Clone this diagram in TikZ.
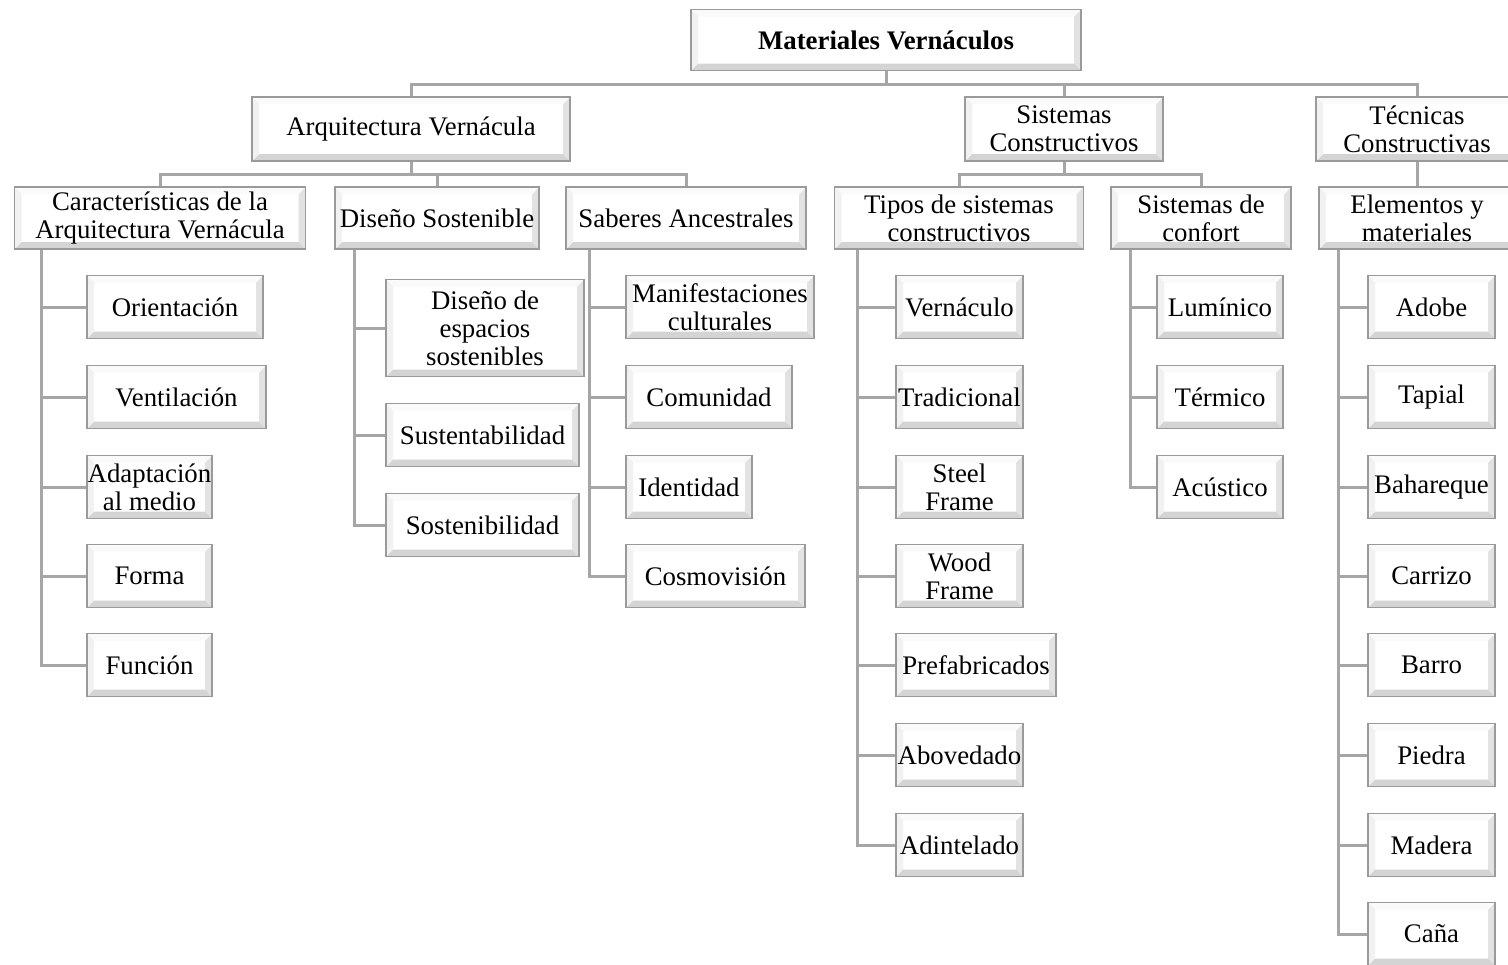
\documentclass[tikz,border=0pt]{standalone}
\usepackage{fontspec}
\setmainfont{Liberation Serif}
\usetikzlibrary{calc}
\definecolor{bord}{HTML}{9A9A9A}
\definecolor{linec}{HTML}{A6A6A6}
\definecolor{bevB}{HTML}{D4D4D4}
\definecolor{bevR}{HTML}{E2E2E2}
\definecolor{bevT}{HTML}{FAFAFA}
\definecolor{bevL}{HTML}{F1F1F1}
\tikzset{
  bx/.style={draw=bord, line width=0.9pt, fill=white, align=center, inner sep=0pt,
    font=\fontsize{13.4}{14}\selectfont,
    path picture={
      \path (path picture bounding box.south west) coordinate (@sw)
            (path picture bounding box.north east) coordinate (@ne);
      \fill[bevB] (@sw) -- (@sw -| @ne) -- ++(-3.5pt,3.5pt) -- ($(@sw)+(3.5pt,3.5pt)$) -- cycle;
      \fill[bevR] (@sw -| @ne) -- (@ne) -- ++(-3.5pt,-3.5pt) -- ($(@sw -| @ne)+(-3.5pt,3.5pt)$) -- cycle;
      \fill[bevT] (@ne) -- (@ne -| @sw) -- ++(3.5pt,-3.5pt) -- ($(@ne)+(-3.5pt,-3.5pt)$) -- cycle;
      \fill[bevL] (@ne -| @sw) -- (@sw) -- ++(3.5pt,3.5pt) -- ($(@ne -| @sw)+(3.5pt,-3.5pt)$) -- cycle;
    }},
  conn/.style={draw=linec, line width=1.5pt}
}
\newcommand\bxnode[6]{\node[bx,minimum width={#4*0.5pt},minimum height={#5*0.5pt}] (#1) at (#2,#3) {#6};}
\begin{document}
\begin{tikzpicture}[x=0.5pt,y=-0.5pt]
\useasboundingbox[fill=white] (0,0) rectangle (1508,964);
\coordinate (j0) at (886,84);
\coordinate (j1) at (411,174);
\coordinate (j2) at (1064,174);
% nodes
\bxnode{title}{886}{40}{390}{61}{\textbf{Materiales Vernáculos}}
\bxnode{arq}{411}{129}{318}{64}{Arquitectura Vernácula}
\bxnode{sis}{1064}{129}{198}{64}{Sistemas\\Constructivos}
\bxnode{tec}{1417}{129}{202}{64}{Técnicas\\Constructivas}
\bxnode{car}{160}{218}{291}{62}{Características de la\\Arquitectura Vernácula}
\bxnode{dis}{437}{218}{204}{62}{Diseño Sostenible}
\bxnode{sab}{686}{218}{240}{62}{Saberes Ancestrales}
\bxnode{tip}{959}{218}{249}{62}{Tipos de sistemas\\constructivos}
\bxnode{con}{1201}{218}{180}{62}{Sistemas de\\confort}
\bxnode{ele}{1417}{218}{196}{62}{Elementos y\\materiales}
% level 3
\bxnode{ori}{175}{307}{176}{63}{Orientación}
\bxnode{ven}{176.5}{397}{179}{63}{Ventilación}
\bxnode{ada}{149.5}{487}{125}{63}{Adaptación\\al medio}
\bxnode{for}{149.5}{576}{125}{63}{Forma}
\bxnode{fun}{149.5}{665}{125}{63}{Función}
\bxnode{dse}{485}{328}{198}{97}{Diseño de\\espacios\\sostenibles}
\bxnode{sus}{482.5}{435}{193}{63}{Sustentabilidad}
\bxnode{sos}{482.5}{525}{193}{63}{Sostenibilidad}
\bxnode{man}{720}{307}{188}{63}{Manifestaciones\\culturales}
\bxnode{com}{709}{397}{166}{63}{Comunidad}
\bxnode{ide}{689}{487}{126}{63}{Identidad}
\bxnode{cos}{715.5}{576}{179}{63}{Cosmovisión}
\bxnode{ver}{959.5}{307}{127}{63}{Vernáculo}
\bxnode{tra}{959.5}{397}{127}{63}{Tradicional}
\bxnode{ste}{959.5}{487}{127}{63}{Steel\\Frame}
\bxnode{woo}{959.5}{576}{127}{63}{Wood\\Frame}
\bxnode{pre}{976}{665}{160}{63}{Prefabricados}
\bxnode{abo}{959.5}{755}{127}{63}{Abovedado}
\bxnode{adi}{959.5}{845}{127}{63}{Adintelado}
\bxnode{lum}{1220}{307}{126}{63}{Lumínico}
\bxnode{ter}{1220}{397}{126}{63}{Térmico}
\bxnode{acu}{1220}{487}{126}{63}{Acústico}
\bxnode{ado}{1431.5}{307}{127}{63}{Adobe}
\bxnode{tap}{1431.5}{397}{127}{63}{Tapial}
\bxnode{bah}{1431.5}{487}{127}{63}{Bahareque}
\bxnode{crr}{1431.5}{576}{127}{63}{Carrizo}
\bxnode{bar}{1431.5}{665}{127}{63}{Barro}
\bxnode{pie}{1431.5}{755}{127}{63}{Piedra}
\bxnode{mad}{1431.5}{845}{127}{63}{Madera}
\bxnode{can}{1431.5}{934}{127}{63}{Caña}
% connectors
\path[conn] (title.south) -- (j0);
\path[conn] (arq.north) |- (j0) -| (tec.north);
\path[conn] (sis.north) -- (j0 -| sis.north);
\path[conn] (arq.south) -- (j1);
\path[conn] (car.north) |- (j1) -| (sab.north);
\path[conn] (dis.north) -- (j1 -| dis.north);
\path[conn] (sis.south) -- (j2);
\path[conn] (tip.north) |- (j2) -| (con.north);
\path[conn] (tec.south) -- (ele.north);
\foreach \c in {ori,ven,ada,for,fun} \path[conn] ([xshift=14pt]car.south west) |- (\c.west);
\foreach \c in {dse,sus,sos} \path[conn] ([xshift=10pt]dis.south west) |- (\c.west);
\foreach \c in {man,com,ide,cos} \path[conn] ([xshift=12pt]sab.south west) |- (\c.west);
\foreach \c in {ver,tra,ste,woo,pre,abo,adi} \path[conn] ([xshift=12pt]tip.south west) |- (\c.west);
\foreach \c in {lum,ter,acu} \path[conn] ([xshift=10pt]con.south west) |- (\c.west);
\foreach \c in {ado,tap,bah,crr,bar,pie,mad,can} \path[conn] ([xshift=10pt]ele.south west) |- (\c.west);
\end{tikzpicture}
\end{document}
